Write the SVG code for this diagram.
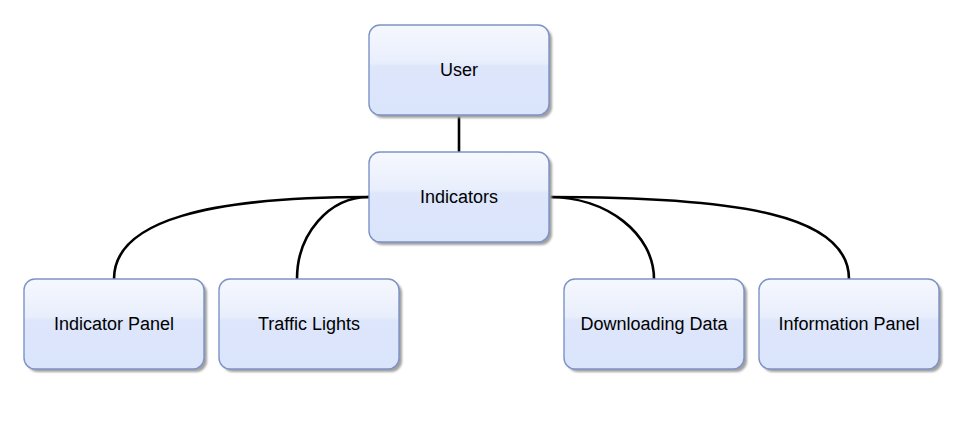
<svg xmlns="http://www.w3.org/2000/svg" width="963" height="426" viewBox="0 0 963 426">
<defs>
<linearGradient id="g" x1="0" y1="0" x2="0" y2="1">
<stop offset="0" stop-color="#f6f8fe"/>
<stop offset="0.42" stop-color="#e8eefc"/>
<stop offset="0.46" stop-color="#dde6fb"/>
<stop offset="1" stop-color="#dae4fb"/>
</linearGradient>
<filter id="sh" x="-10%" y="-10%" width="130%" height="130%">
<feGaussianBlur stdDeviation="0.8"/>
</filter>
</defs>
<style>
.shadow{fill:#a0a0a0;filter:url(#sh)}
.box{fill:url(#g);stroke:#7d93c6;stroke-width:1.4}
.lbl{font-family:"Liberation Sans",Arial,sans-serif;font-size:18px;fill:#000;text-anchor:middle;dominant-baseline:central}
.edge{fill:none;stroke:#000;stroke-width:2.6}
</style>
<rect width="963" height="426" fill="#fff"/>
<g id="connectors">
<path class="edge" d="M459,115 L459,152"/>
<path class="edge" d="M369,197 C210,197 114,220 114,279"/>
<path class="edge" d="M369,197 C329,197 297,234 297,279"/>
<path class="edge" d="M549,197 C607,197 654,234 654,279"/>
<path class="edge" d="M549,197 C740,197 849,215 849,279"/>
</g>
<g id="user"><rect class="shadow" x="372" y="28" width="180" height="90" rx="11"/><rect class="box" x="369" y="25" width="180" height="90" rx="11"/><text class="lbl" x="459" y="70">User</text></g>
<g id="indicators"><rect class="shadow" x="372" y="155" width="180" height="90" rx="11"/><rect class="box" x="369" y="152" width="180" height="90" rx="11"/><text class="lbl" x="459" y="197">Indicators</text></g>
<g id="indicator-panel"><rect class="shadow" x="27" y="282" width="180" height="90" rx="11"/><rect class="box" x="24" y="279" width="180" height="90" rx="11"/><text class="lbl" x="114" y="324">Indicator Panel</text></g>
<g id="traffic-lights"><rect class="shadow" x="222" y="282" width="180" height="90" rx="11"/><rect class="box" x="219" y="279" width="180" height="90" rx="11"/><text class="lbl" x="309" y="324">Traffic Lights</text></g>
<g id="downloading-data"><rect class="shadow" x="567" y="282" width="180" height="90" rx="11"/><rect class="box" x="564" y="279" width="180" height="90" rx="11"/><text class="lbl" x="654" y="324">Downloading Data</text></g>
<g id="information-panel"><rect class="shadow" x="762" y="282" width="180" height="90" rx="11"/><rect class="box" x="759" y="279" width="180" height="90" rx="11"/><text class="lbl" x="849" y="324">Information Panel</text></g>
</svg>
